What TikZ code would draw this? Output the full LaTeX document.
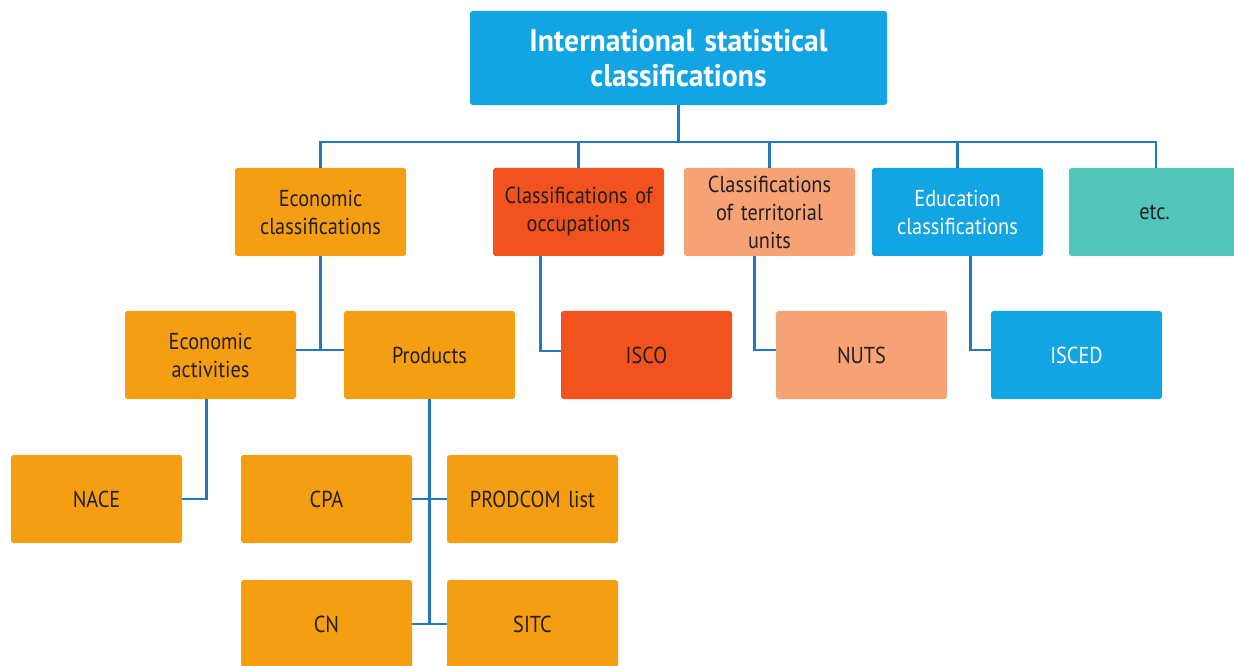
\documentclass[tikz,border=0pt]{standalone}
\usepackage{fontspec}
\setmainfont{PT Sans}[FakeStretch=0.88, WordSpace=0.65]
\newfontfamily\titlefont{PT Sans}[FakeStretch=0.95, WordSpace=0.75]
\usetikzlibrary{calc}
\definecolor{cblue}{HTML}{13A4E4}
\definecolor{corange}{HTML}{F59E11}
\definecolor{cred}{HTML}{F1521E}
\definecolor{csalmon}{HTML}{F7A274}
\definecolor{cteal}{HTML}{52C5BA}
\definecolor{cline}{HTML}{2677C2}
\definecolor{ctext}{HTML}{231F20}
\tikzset{
  box/.style={rounded corners=2pt, minimum width=128.25pt, minimum height=66pt,
    align=center, text=ctext, font=\fontsize{17.3}{21}\selectfont, inner sep=0pt, text width=126pt},
  obox/.style={box, fill=corange},
  rbox/.style={box, fill=cred},
  sbox/.style={box, fill=csalmon},
  bbox/.style={box, fill=cblue, text=white},
  tbox/.style={box, fill=cteal},
  conn/.style={draw=cline, line width=2.2pt},
}
\begin{document}
\begin{tikzpicture}[x=0.75pt, y=-0.75pt]
\useasboundingbox (0,0) rectangle (1234,666);
\node[bbox, minimum width=312.75pt, minimum height=70.5pt, text width=305pt,
  font=\titlefont\bfseries\fontsize{23.4}{26.5}\selectfont] (top) at (678.5,58) {International statistical\\classifications};
\coordinate (bus) at (681,142);
\node[obox] (econ) at (320.5,212) {Economic\\classifications};
\node[rbox] (occ) at (578.5,212) {Classifications of\\occupations};
\node[sbox] (terr) at (769.5,212) {Classifications\\of territorial\\units};
\node[bbox] (edu) at (957.5,212) {Education\\classifications};
\node[tbox] (etc) at (1154.5,212) {etc.};
\node[obox] (act) at (210.5,355) {Economic\\activities};
\node[obox] (prod) at (429.5,355) {Products};
\node[rbox] (isco) at (646.5,355) {ISCO};
\node[sbox] (nuts) at (861.5,355) {NUTS};
\node[bbox] (isced) at (1076.5,355) {ISCED};
\node[obox] (nace) at (96.5,499) {NACE};
\node[obox] (cpa) at (326.5,499) {CPA};
\node[obox] (prodcom) at (532.5,499) {PRODCOM list};
\node[obox] (cn) at (326.5,624) {CN};
\node[obox] (sitc) at (532.5,624) {SITC};
% top level
\draw[conn] (top.south) -- (top.south |- bus);
\draw[conn] (econ.north) -- (econ.north |- bus) -- ($(etc.north |- bus)+(1.5,0)$) -- ($(etc.north)+(1.5,0)$);
\draw[conn] (occ.north) -- (occ.north |- bus);
\draw[conn] (terr.north) -- (terr.north |- bus);
\draw[conn] (edu.north) -- (edu.north |- bus);
% lower levels
\draw[conn] (econ.south) -- ($(econ.south |- act.east)+(0,-5)$);
\draw[conn] ($(act.east)+(0,-5)$) -- ($(prod.west)+(0,-5)$);
\draw[conn] ($(isco.west)+(0,-4)$) -- ++(-20,0) coordinate (t1) -- (t1 |- occ.south);
\draw[conn] ($(nuts.west)+(0,-5)$) -- ++(-21,0) coordinate (t2) -- (t2 |- terr.south);
\draw[conn] ($(isced.west)+(0,-5)$) -- ++(-20,0) coordinate (t3) -- (t3 |- edu.south);
\draw[conn] (nace.east) -- ++(24,0) coordinate (t4) -- (t4 |- act.south);
\draw[conn] (prod.south) -- (prod.south |- cn.east);
\draw[conn] (cpa.east) -- (prodcom.west);
\draw[conn] (cn.east) -- (sitc.west);
\end{tikzpicture}
\end{document}
